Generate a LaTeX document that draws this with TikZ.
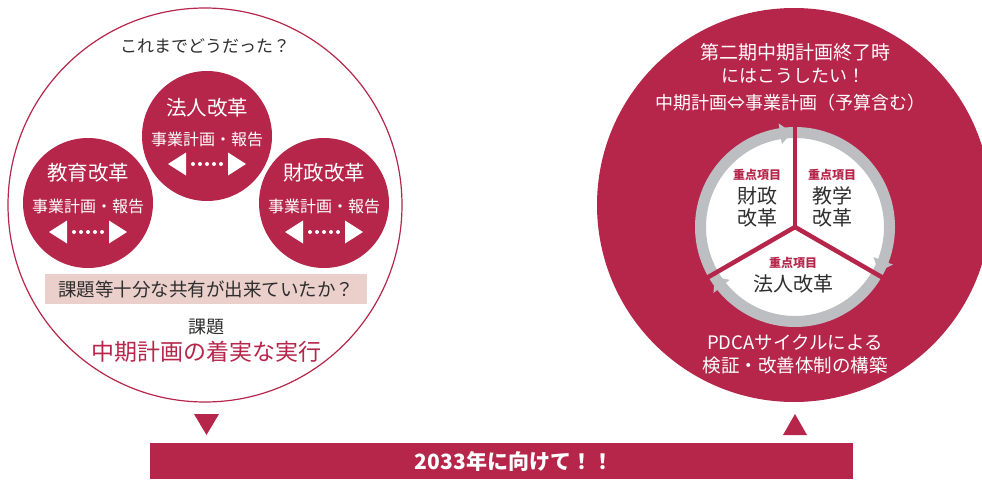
\documentclass[tikz,border=0pt]{standalone}
\usepackage{fontspec}
\usetikzlibrary{calc}
\setmainfont{Noto Sans CJK JP}
\definecolor{crim}{HTML}{B6264A}
\definecolor{pinkbox}{HTML}{EBCFCB}
\definecolor{ringgray}{HTML}{BDBEC2}
\definecolor{darktext}{HTML}{2E2E2E}
\newcommand\myfs[1]{\fontsize{#1}{#1}\selectfont}
\tikzset{
  smallc/.style={circle, fill=crim, minimum size=130pt, inner sep=0pt},
  wtitle/.style={text=white, font=\myfs{20.5}, inner sep=0pt},
  wsub/.style={text=white, font=\myfs{16}, inner sep=0pt},
  wtext/.style={text=white, font=\myfs{18}, inner sep=0pt},
  dtext/.style={text=darktext, font=\myfs{18}, inner sep=0pt},
  keyitem/.style={text=crim, font=\bfseries\myfs{12}, inner sep=0pt},
  segtext/.style={text=darktext, font=\myfs{20}, inner sep=0pt, align=center},
  divider/.style={draw=crim, line width=4.5pt},
  dotarrow/.pic={
    \fill[white] (-39,0) -- (-21,11.5) -- (-21,-11.5) -- cycle;
    \fill[white] (39,0) -- (21,11.5) -- (21,-11.5) -- cycle;
    \foreach \dx in {-14,-7,0,7,14} \fill[white] (\dx,0) circle (2);
  },
}
\begin{document}
\begin{tikzpicture}[x=1pt,y=1pt]
\useasboundingbox (0,0) rectangle (982,-479);
\clip (0,0) rectangle (982,-479);

% ---------- left circle ----------
\node[circle, draw=crim, line width=1.2pt, minimum size=394pt, inner sep=0pt] (L) at (205,-205) {};
\node[dtext, font=\myfs{17}] (Lq) at (205,-46) {これまでどうだった？};

\node[smallc] (c1) at (207,-136) {};
\node[wtitle] (c1t) at (207,-108) {法人改革};
\node[wsub] (c1s) at (207,-139) {事業計画・報告};
\pic at (207,-164) {dotarrow};

\node[smallc] (c2) at (88,-203) {};
\node[wtitle] (c2t) at (88,-173) {教育改革};
\node[wsub] (c2s) at (88,-206) {事業計画・報告};
\pic at (88,-232) {dotarrow};

\node[smallc] (c3) at (324,-203) {};
\node[wtitle] (c3t) at (324,-173) {財政改革};
\node[wsub] (c3s) at (324,-206) {事業計画・報告};
\pic at (324,-232) {dotarrow};

\node[fill=pinkbox, minimum width=322pt, minimum height=30pt, inner sep=0pt,
      text=darktext, font=\myfs{18.5}] (q) at (206,-289) {課題等十分な共有が出来ていたか？};
\node[dtext] (k) at (206,-327) {課題};
\node[text=crim, font=\myfs{23}, inner sep=0pt] (goal) at (206,-352) {中期計画の着実な実行};

% ---------- right circle ----------
\node[circle, fill=crim, minimum size=394pt, inner sep=0pt] (R) at (794,-205) {};
\node[wtext, font=\myfs{19}] (r1) at (795,-52) {第二期中期計画終了時};
\node[wtext] (r2) at (793,-76) {にはこうしたい！};
\node[wtext] (r3) at (790,-103) {中期計画⇔事業計画（予算含む）};

\coordinate (C) at (795,-227);
\fill[white] (C) circle (89.5);
\draw[ringgray, line width=11pt] (C) circle (94.5);
% arrow heads (clockwise)
\fill[ringgray] ($(C)+(92:94.5)$) -- ($(C)+(99:84)$) -- ($(C)+(99:105)$) -- cycle;
\fill[ringgray] ($(C)+(-28:94.5)$) -- ($(C)+(-21:84)$) -- ($(C)+(-21:105)$) -- cycle;
\fill[ringgray] ($(C)+(212:94.5)$) -- ($(C)+(219:84)$) -- ($(C)+(219:105)$) -- cycle;
\coordinate (d1) at ($(C)+(90:104)$);
\coordinate (d2) at ($(C)+(210:104)$);
\coordinate (d3) at ($(C)+(330:104)$);
\draw[divider] (C) -- (d1);
\draw[divider] (C) -- (d2);
\draw[divider] (C) -- (d3);

\node[keyitem] (k1) at (757,-175) {重点項目};
\node[segtext] (s1) at (757,-196) {財政};
\node[segtext] (s1b) at (757,-218) {改革};
\node[keyitem] (k2) at (832,-175) {重点項目};
\node[segtext] (s2) at (832,-196) {教学};
\node[segtext] (s2b) at (832,-218) {改革};
\node[keyitem] (k3) at (793,-263) {重点項目};
\node[segtext] (s3) at (793,-284) {法人改革};

\node[wtext, font=\myfs{18.5}] (p1) at (795,-342) {PDCAサイクルによる};
\node[wtext, font=\myfs{18.5}] (p2) at (795,-365) {検証・改善体制の構築};

% ---------- bottom ----------
\node[fill=crim, minimum width=703pt, minimum height=36pt, inner sep=0pt] (bar) at (501.5,-461) {};
\node[text=white, font=\bfseries\myfs{21}, inner sep=0pt] (bartext) at (514,-461) {2033年に向けて！！};
\fill[crim] (194,-414) -- (219,-414) -- (206.5,-435) -- cycle;
\fill[crim] (783,-435) -- (807,-435) -- (795,-414) -- cycle;
\end{tikzpicture}
\end{document}
